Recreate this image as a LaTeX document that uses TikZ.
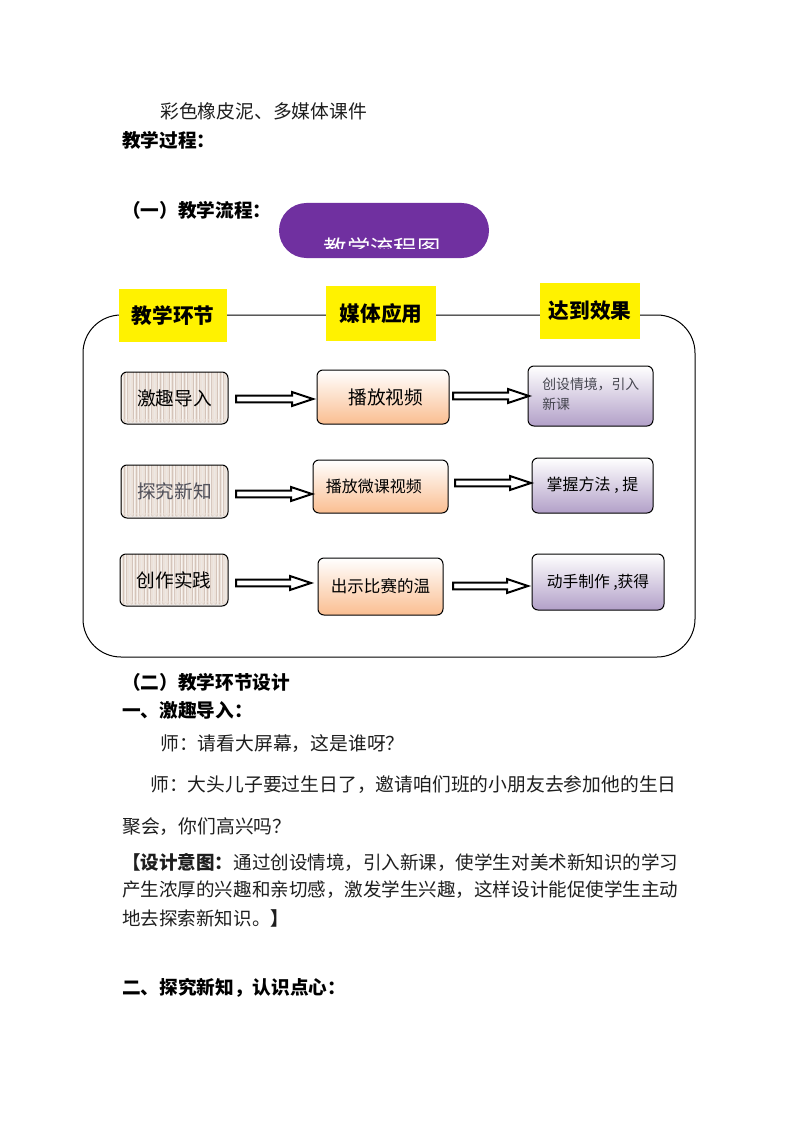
\documentclass[tikz,border=0pt]{standalone}
\usepackage{fontspec}
\setmainfont{Noto Sans CJK SC}
\usetikzlibrary{calc}
\definecolor{purp}{RGB}{112,48,160}
\definecolor{peach}{RGB}{250,190,145}
\definecolor{lav}{RGB}{178,160,200}
\definecolor{beige}{RGB}{236,226,218}
\definecolor{stripe}{RGB}{212,196,186}
\definecolor{bodytxt}{RGB}{30,30,30}
\definecolor{songgray}{RGB}{80,80,90}
\definecolor{smallgray}{RGB}{70,70,80}
\newcommand\fsz[1]{\fontsize{#1}{#1}\selectfont}
\newcommand\blockarr[2]{\draw[blockarrow] let \p1=(#1), \p2=(#2) in
  (\x1,\y1+2.6pt) -- (\x2-15.75pt,\y1+2.6pt) -- (\x2-15.75pt,\y1+5.25pt) -- (\x2,\y1)
  -- (\x2-15.75pt,\y1-5.25pt) -- (\x2-15.75pt,\y1-2.6pt) -- (\x1,\y1-2.6pt) -- cycle;}
\begin{document}
\begin{tikzpicture}[x=0.75pt,y=-0.75pt,
  txt/.style={anchor=west,inner sep=0pt,text=bodytxt,font=\fsz{14.1pt}},
  btxt/.style={anchor=west,inner sep=0pt,text=black,font=\fsz{14pt}\bfseries},
  ybox/.style={fill=yellow,draw=none,inner sep=0pt,font=\fsz{15.5pt}\bfseries},
  lbox/.style={draw=black,line width=0.75pt,rounded corners=4.5pt,fill=beige,inner sep=0pt,
    font=\fsz{14pt},
    path picture={
      \foreach \i in {0,3,...,114}{\fill[stripe] ([xshift=\i*0.75pt]path picture bounding box.south west) rectangle ++(0.7pt,60pt);}
      \foreach \i in {1,5,...,114}{\fill[white,opacity=0.6] ([xshift=\i*0.75pt]path picture bounding box.south west) rectangle ++(0.8pt,60pt);}
    }},
  mbox/.style={draw=black,line width=0.75pt,rounded corners=4.5pt,top color=white,bottom color=peach,inner sep=0pt},
  rbox/.style={draw=black,line width=0.75pt,rounded corners=4.5pt,top color=white,bottom color=lav,inner sep=0pt},
  blockarrow/.style={draw=black,line width=1.5pt,fill=white,line join=miter}
]
\useasboundingbox[fill=white] (0,0) rectangle (794,1123);

% top text
\node[txt] (t1) at (160,111) {彩色橡皮泥、多媒体课件};
\node[btxt] (t2) at (122,140) {教学过程：};
\node[btxt] (t3) at (122,210) {（一）教学流程：};

% title stadium
\node[fill=purp,draw=none,rounded corners=20.6pt,minimum width=157.5pt,minimum height=41.25pt,inner sep=0pt] (title) at (384,230.5) {};
\begin{scope}
  \clip (279,203) rectangle (489,248);
  \node[text=white,font=\fsz{17.5pt},inner sep=0pt] (titletxt) at (382,248.5) {教学流程图};
\end{scope}

% frame
\draw[line width=0.75pt,rounded corners=28.5pt] (83,315) rectangle (695,657);

% header boxes
\node[ybox,minimum width=81pt,minimum height=39.75pt] (h1) at (173,315.5) {教学环节};
\node[ybox,minimum width=82.5pt,minimum height=41.25pt] (h2) at (381,313.5) {媒体应用};
\node[ybox,minimum width=75pt,minimum height=42pt] (h3) at (590,311) {达到效果};

% left column
\node[lbox,minimum width=80.25pt,minimum height=39pt] (l1) at (174.5,398) {激趣导入};
\node[lbox,minimum width=80.25pt,minimum height=39.75pt,text=songgray] (l2) at (174.5,491.5) {探究新知};
\node[lbox,minimum width=81pt,minimum height=39pt] (l3) at (174,580) {创作实践};

% middle column
\node[mbox,minimum width=99pt,minimum height=40.5pt,font=\fsz{14pt}] (m1) at (383,397) {\hspace*{4pt}播放视频};
\node[mbox,minimum width=101.25pt,minimum height=39.75pt,font=\fsz{12pt}] (m2) at (380.5,486.5) {\raisebox{-1.5pt}{播放微课视频}\hspace*{10pt}};
\node[mbox,minimum width=93.75pt,minimum height=42.75pt,font=\fsz{12.4pt}] (m3) at (380.5,586.5) {出示比赛的温};

% right column
\node[rbox,minimum width=93.75pt,minimum height=45pt] (r1) at (590.5,396) {};
\node[anchor=west,inner sep=0pt,font=\fsz{10.4pt},text=smallgray] (r1a) at (542,384) {创设情境，引入};
\node[anchor=west,inner sep=0pt,font=\fsz{10.4pt},text=smallgray] (r1b) at (542,404) {新课};
\node[rbox,minimum width=90.75pt,minimum height=41.25pt,font=\fsz{12pt}] (r2) at (592.5,485.5) {掌握方法 , 提};
\node[rbox,minimum width=99pt,minimum height=42pt,font=\fsz{11.8pt}] (r3) at (598,582) {动手制作 ,获得};

% block arrows
\coordinate (a1s) at (236,399); \coordinate (a1e) at (313,399);
\coordinate (b1s) at (453,396); \coordinate (b1e) at (529,396);
\coordinate (a2s) at (236,494); \coordinate (a2e) at (312,494);
\coordinate (b2s) at (455,483); \coordinate (b2e) at (531,483);
\coordinate (a3s) at (236,583); \coordinate (a3e) at (311,583);
\coordinate (b3s) at (453,586); \coordinate (b3e) at (528,586);
\blockarr{a1s}{a1e}
\blockarr{b1s}{b1e}
\blockarr{a2s}{a2e}
\blockarr{b2s}{b2e}
\blockarr{a3s}{a3e}
\blockarr{b3s}{b3e}

% lower text
\node[btxt] (t4) at (122,682) {（二）教学环节设计};
\node[btxt] (t5) at (122,710) {一、激趣导入：};
\node[txt] (t6) at (160,744) {师：请看大屏幕，这是谁呀？};
\node[txt] (t7) at (150,785) {师：大头儿子要过生日了，邀请咱们班的小朋友去参加他的生日};
\node[txt] (t8) at (122,827) {聚会，你们高兴吗？};
\node[txt,font=\fsz{13.9pt}] (t9) at (122,862) {{\bfseries 【设计意图：}通过创设情境，引入新课，使学生对美术新知识的学习};
\node[txt,font=\fsz{13.9pt}] (t10) at (122,890) {产生浓厚的兴趣和亲切感，激发学生兴趣，这样设计能促使学生主动};
\node[txt,font=\fsz{13.9pt}] (t11) at (122,918) {地去探索新知识。{\bfseries 】}};
\node[btxt] (t12) at (122,988) {二、探究新知，认识点心：};
\end{tikzpicture}
\end{document}
